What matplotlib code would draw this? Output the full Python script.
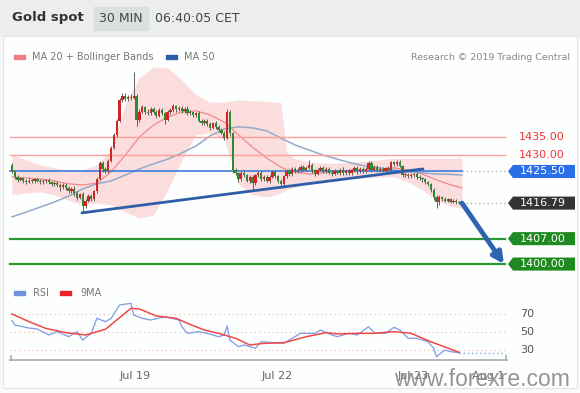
import numpy as np
import matplotlib.pyplot as plt
from matplotlib.patches import Polygon, Rectangle

# 30 min candles, bar index 0..159
first_open = 1427.3
closes = [
    1425.5, 1424.0, 1423.2, 1423.6, 1423.0, 1422.6, 1423.0, 1422.8, 1423.3, 1422.9,
    1422.5, 1422.8, 1423.1, 1422.6, 1422.0, 1422.4, 1421.8, 1421.2, 1421.8, 1420.9,
    1420.2, 1420.8, 1419.5, 1418.3, 1419.2, 1416.0, 1417.5, 1418.8, 1418.0, 1420.0,
    1423.5, 1427.8, 1426.2, 1425.5, 1428.5, 1432.0, 1435.5, 1439.5, 1445.2, 1446.2,
    1445.5, 1446.0, 1445.8, 1446.3, 1439.8, 1442.0, 1443.2, 1442.0, 1441.5, 1442.8,
    1442.0, 1440.8, 1442.5, 1441.6, 1439.8, 1441.8, 1442.5, 1443.5, 1442.6, 1443.0,
    1442.2, 1442.8, 1441.5, 1441.8, 1441.0, 1441.5, 1439.5, 1438.8, 1439.5, 1438.5,
    1437.5, 1438.8, 1437.8, 1437.0, 1436.2, 1434.8, 1441.8, 1436.0, 1426.0, 1425.0,
    1423.5, 1425.2, 1424.5, 1423.0, 1424.0, 1422.2, 1424.5, 1425.0, 1423.5, 1424.0,
    1423.0, 1424.0, 1425.3, 1424.2, 1423.0, 1422.0, 1424.2, 1425.5, 1424.8, 1426.3,
    1425.6, 1426.0, 1426.8, 1426.0, 1426.5, 1427.2, 1425.8, 1424.8, 1426.0, 1426.5,
    1425.6, 1426.3, 1425.2, 1424.8, 1425.6, 1425.2, 1426.0, 1425.0, 1425.6, 1425.0,
    1425.8, 1426.5, 1425.5, 1426.2, 1425.6, 1426.3, 1427.8, 1426.0, 1426.8, 1425.8,
    1426.2, 1425.7, 1426.4, 1426.0, 1428.0, 1427.6, 1428.2, 1427.0, 1424.5, 1424.6,
    1424.2, 1424.5, 1424.8, 1424.0, 1423.6, 1423.3, 1422.5, 1422.0, 1420.5, 1418.5,
    1417.0, 1418.4, 1418.0, 1417.5, 1417.8, 1417.2, 1417.5, 1417.0, 1416.9, 1416.79,
]
wick_up = [
    0.5, 0.4, 0.5, 0.4, 0.5, 0.4, 0.6, 0.4, 0.5, 0.4,
    0.4, 0.5, 0.4, 0.6, 0.4, 0.5, 0.4, 0.5, 0.6, 0.4,
    0.5, 0.4, 0.6, 0.5, 0.4, 0.6, 0.5, 0.4, 0.6, 0.5,
    0.4, 0.6, 0.5, 0.4, 0.5, 0.4, 0.5, 0.4, 0.5, 0.8,
    1.0, 0.6, 0.8, 6.5, 0.5, 0.6, 0.5, 0.4, 0.6, 0.5,
    0.5, 0.4, 0.6, 0.5, 0.4, 0.5, 0.6, 0.5, 0.4, 0.5,
    0.5, 0.4, 0.6, 0.5, 0.4, 0.5, 0.6, 0.4, 0.5, 0.4,
    0.5, 0.4, 0.5, 0.4, 0.5, 0.4, 0.8, 0.6, 0.4, 0.5,
    0.4, 0.5, 0.6, 0.4, 0.5, 0.5, 0.4, 0.6, 0.5, 0.4,
    0.5, 0.4, 0.6, 0.5, 0.4, 0.5, 0.4, 0.5, 0.6, 0.4,
    0.5, 0.4, 0.6, 0.5, 0.4, 1.4, 0.5, 0.4, 0.5, 0.6,
    0.4, 0.5, 0.4, 0.6, 0.5, 0.4, 0.5, 0.6, 0.4, 0.5,
    0.4, 0.5, 0.6, 0.4, 0.5, 0.4, 0.6, 0.5, 0.4, 0.5,
    0.4, 0.5, 0.4, 0.6, 0.5, 0.4, 0.5, 0.6, 0.4, 0.5,
    0.4, 0.5, 0.4, 0.6, 0.4, 0.5, 0.4, 0.5, 0.4, 0.5,
    0.6, 0.5, 0.4, 0.5, 0.4, 0.5, 0.4, 0.4, 0.3, 0.3,
]
wick_dn = [
    0.5, 0.6, 0.5, 0.4, 0.6, 0.5, 0.4, 0.5, 0.6, 0.4,
    0.5, 0.4, 0.6, 0.5, 0.4, 0.5, 0.6, 1.0, 0.5, 0.6,
    0.6, 0.5, 0.8, 0.6, 0.5, 1.9, 0.6, 0.5, 0.6, 0.5,
    0.5, 0.4, 0.8, 0.5, 0.4, 0.5, 0.4, 0.5, 0.4, 0.6,
    0.5, 0.6, 0.5, 0.4, 1.8, 0.6, 0.5, 0.6, 0.4, 0.5,
    0.6, 0.5, 0.4, 0.5, 1.3, 0.5, 0.4, 0.5, 0.6, 0.4,
    0.5, 0.6, 0.4, 0.5, 0.6, 0.4, 0.5, 0.6, 0.4, 0.5,
    0.6, 0.4, 0.5, 0.6, 0.5, 0.5, 0.4, 0.6, 0.8, 0.6,
    0.8, 0.5, 0.6, 0.5, 0.6, 1.7, 0.5, 0.4, 0.6, 0.5,
    0.5, 0.6, 0.4, 0.5, 0.6, 1.0, 0.5, 0.4, 0.5, 0.6,
    0.4, 0.5, 0.6, 0.4, 0.5, 0.4, 0.6, 0.5, 0.4, 0.5,
    0.6, 0.4, 0.5, 0.6, 0.4, 0.5, 0.6, 0.4, 0.5, 0.6,
    0.5, 0.4, 0.6, 0.5, 0.4, 0.5, 0.4, 0.6, 0.5, 0.4,
    0.5, 0.4, 0.6, 0.5, 0.4, 0.5, 0.6, 0.4, 0.6, 0.5,
    0.5, 0.4, 0.6, 0.5, 0.4, 0.6, 0.5, 0.4, 0.6, 0.8,
    1.5, 0.6, 0.5, 0.4, 0.5, 0.4, 0.5, 0.4, 0.3, 0.3,
]

# indicators (bar index, value)
band_x = [0, 5, 10, 15, 20, 25, 30, 35, 40, 45, 50, 55, 60, 65, 70, 75, 80, 85, 90, 95, 97,
          100, 105, 110, 115, 120, 125, 130, 135, 140, 145, 150, 155, 159]
ma20 = [1424.0, 1423.7, 1423.4, 1422.9, 1422.1, 1421.8, 1422.3, 1425.4, 1430.0, 1435.0, 1438.3,
        1440.5, 1441.9, 1442.2, 1441.1, 1439.1, 1435.6, 1432.2, 1429.2, 1426.7, 1426.0,
        1425.4, 1424.8, 1425.1, 1425.4, 1425.9, 1425.9, 1426.2, 1426.5, 1425.9, 1424.8,
        1423.2, 1421.8, 1421.0]
bb_upper = [1430.0, 1428.7, 1427.3, 1426.5, 1425.9, 1425.9, 1427.3, 1431.4, 1443.8, 1451.3, 1454.3,
            1454.0, 1450.7, 1446.6, 1444.6, 1444.6, 1445.2, 1445.0, 1444.8, 1444.5, 1431.0,
            1429.0, 1428.1, 1427.8, 1427.8, 1428.1, 1428.4, 1428.7, 1429.2, 1429.2, 1429.2,
            1429.2, 1429.2, 1429.2]
bb_lower = [1419.0, 1419.6, 1419.9, 1419.0, 1417.6, 1416.3, 1416.8, 1416.3, 1414.3, 1412.7, 1413.5,
            1420.4, 1428.7, 1435.6, 1436.1, 1434.2, 1422.0, 1419.0, 1418.5, 1419.5, 1420.5,
            1421.2, 1422.3, 1423.2, 1423.4, 1423.7, 1423.7, 1424.0, 1424.0, 1422.6, 1420.4,
            1417.6, 1416.0, 1415.4]
ma50_x = [0, 5, 10, 15, 20, 25, 30, 35, 40, 45, 50, 55, 60, 65, 70, 75, 80, 85, 90, 95,
          100, 105, 110, 115, 120, 125, 130, 135, 140, 145, 150, 155, 159]
ma50 = [1413.0, 1414.3, 1415.7, 1417.1, 1418.7, 1420.7, 1422.1, 1422.9, 1424.5, 1426.2, 1427.6,
        1428.9, 1430.6, 1432.5, 1435.3, 1437.2, 1437.8, 1437.5, 1436.7, 1434.7, 1432.8,
        1431.4, 1430.0, 1428.9, 1427.8, 1427.0, 1426.5, 1425.9, 1425.4, 1425.1, 1424.8,
        1424.7, 1424.5]

rsi_x = [0, 1, 6, 9, 13, 16, 20, 23, 25, 28, 30, 33, 35, 38, 42, 43, 46, 49, 54, 59,
         60, 62, 66, 69, 73, 75, 76, 77, 80, 82, 86, 88, 93, 96, 99, 102, 107, 109, 113, 115,
         119, 122, 126, 128, 132, 135, 137, 140, 143, 147, 149, 150, 153, 155, 158]
rsi = [62.6, 57.8, 54.4, 53.3, 46.7, 50.4, 44.8, 50.4, 41.0, 48.5, 65.2, 61.5, 65.0, 80.0, 81.9,
       68.9, 65.2, 63.3, 67.0, 63.3, 55.9, 48.5, 50.4, 48.5, 44.8, 46.7, 56.7, 41.0, 33.7, 35.6,
       31.9, 39.2, 38.1, 37.4, 43.0, 48.5, 48.5, 52.2, 46.7, 44.8, 48.5, 46.7, 55.9, 49.3, 48.5,
       55.2, 52.2, 43.0, 43.0, 39.2, 31.9, 22.6, 30.0, 28.1, 27.0]
ma9_x = [0, 6, 12, 19, 26, 33, 37, 42, 45, 51, 58, 62, 68, 73, 79, 84, 89, 96, 104, 111,
         115, 122, 128, 135, 141, 148, 158]
ma9 = [70.0, 61.5, 54.0, 49.3, 46.7, 53.0, 63.3, 76.3, 75.6, 67.8, 65.2, 59.6, 52.2, 48.5, 43.0,
       35.6, 37.4, 38.1, 44.8, 49.3, 47.8, 48.5, 48.5, 50.4, 48.5, 39.2, 27.4]

trend_x = [24.7, 145.2]
trend_y = [1414.1, 1426.2]
resist = [1435.00, 1430.00]
pivot = 1425.50
last = 1416.79
targets = [1407.00, 1400.00]
date_ticks = [43.5, 93.6, 141.7, 168.2]
date_labels = ["Jul 19", "Jul 22", "Jul 23", "Aug 1"]
rsi_levels = [70, 50, 30]

# pixel layout helpers
W, H = 580, 393
X0, DX = 12.0, 2.83          # px of bar 0, px per bar
def bx(px):
    return (px - X0) / DX

fig = plt.figure(figsize=(W / 100, H / 100), dpi=100)
fig.patch.set_facecolor('#f9fbfb')

bg = fig.add_axes([0, 0, 1, 1])
bg.set_xlim(0, W)
bg.set_ylim(H, 0)
bg.axis('off')
bg.add_patch(Rectangle((0, 0), W, 36, color='#eceeee', zorder=0))
bg.add_patch(Rectangle((3, 36), W - 6, 352, facecolor='#fdfefe', edgecolor='#e2e6e6', lw=0.8, zorder=0))
bg.text(12, 18, "Gold spot", fontsize=9.5, fontweight='bold', color='#333333', va='center')
bg.add_patch(Rectangle((94, 7), 54, 23, color='#dcdfdf', zorder=1))
bg.text(121, 18.5, "30 MIN", fontsize=9, color='#444444', va='center', ha='center', zorder=2)
bg.text(155, 18.5, "06:40:05 CET", fontsize=9, color='#444444', va='center')
bg.add_patch(Rectangle((14, 54.5), 11, 4, color='#f08080'))
bg.text(32, 57, "MA 20 + Bollinger Bands", fontsize=7, color='#777777', va='center')
bg.add_patch(Rectangle((166, 54.5), 11, 4, color='#2f5ea8'))
bg.text(184, 57, "MA 50", fontsize=7, color='#777777', va='center')
bg.text(570, 57, "Research \u00a9 2019 Trading Central", fontsize=6.8, color='#888888', va='center', ha='right')
bg.add_patch(Rectangle((14, 290.5), 11, 4, color='#7090e0'))
bg.text(33, 292.5, "RSI", fontsize=7, color='#777777', va='center')
bg.add_patch(Rectangle((60, 290.5), 11, 4, color='#ee2222'))
bg.text(80, 292.5, "9MA", fontsize=7, color='#777777', va='center')

# price panel
ax = fig.add_axes([0, 1 - 278 / H, 1, 213 / H])
ax.set_xlim(bx(0), bx(W))
ax.set_ylim(1396.16, 1454.83)
ax.axis('off')
ax.patch.set_alpha(0)

ax.fill_between(band_x, bb_lower, bb_upper, color='#fbd3d3', alpha=0.75, lw=0, zorder=1)
ax.plot(band_x, ma20, color='#f08a8a', lw=0.9, zorder=2)
ax.plot(ma50_x, ma50, color='#93abc9', lw=1.1, zorder=2)

left, right = bx(10), bx(505)
for lv in resist:
    ax.plot([left, right], [lv, lv], color='#ff9c9c', lw=1, zorder=2)
    ax.text(bx(542), lv, f"{lv:.2f}", color='#ee3333', fontsize=8, ha='center', va='center')
for lv in targets:
    ax.plot([left, right], [lv, lv], color='#2e962e', lw=1.6, zorder=2)
ax.plot([left, 159], [pivot, pivot], color='#3d7be0', lw=1.2, zorder=2)
ax.plot([159, right], [pivot, pivot], color='#aab4b4', lw=1, ls=(0, (1, 2)), zorder=2)
ax.plot([159, right], [last, last], color='#aab4b4', lw=1, ls=(0, (1, 2)), zorder=2)

opens = [first_open] + closes[:-1]
xs = np.arange(len(closes))
hi = [max(o, c) + w for o, c, w in zip(opens, closes, wick_up)]
lo = [min(o, c) - w for o, c, w in zip(opens, closes, wick_dn)]
cols = ['#d02525' if c >= o else '#2f8a2f' for o, c in zip(opens, closes)]
ax.vlines(xs, lo, hi, color='#606060', lw=0.7, zorder=3)
ax.bar(xs, [max(abs(c - o), 0.22) for o, c in zip(opens, closes)],
       bottom=[min(o, c) for o, c in zip(opens, closes)], width=0.82, color=cols, zorder=4)

ax.plot(trend_x, trend_y, color='#2f5ea8', lw=2, zorder=5, solid_capstyle='round')
ax.annotate('', xy=(bx(504), targets[1]), xytext=(159, last),
            arrowprops=dict(arrowstyle='-|>', color='#2f64b0', lw=3.5, mutation_scale=16,
                            shrinkA=0, shrinkB=0), zorder=6)

def tag(level, fc):
    h = 1.8
    x1, xn, x2 = bx(508), bx(513), bx(575)
    ax.add_patch(Polygon([(x1, level), (xn, level + h), (x2, level + h), (x2, level - h), (xn, level - h)],
                         closed=True, facecolor=fc, edgecolor='none', clip_on=False, zorder=6))
    ax.text(bx(543), level, f"{level:.2f}", color='white', fontsize=8, ha='center', va='center', zorder=7)

tag(pivot, '#2b6fe8')
tag(last, '#333333')
for lv in targets:
    tag(lv, '#1f8a1f')

# RSI panel
ax2 = fig.add_axes([10 / W, 1 - 360 / H, 497 / W, 64 / H])
ax2.set_xlim(bx(10), bx(507))
ax2.set_ylim(18.9, 90)
ax2.patch.set_alpha(0)
for s in ['top', 'left', 'right']:
    ax2.spines[s].set_visible(False)
ax2.spines['bottom'].set_color('#aaaaaa')
ax2.spines['bottom'].set_linewidth(1.2)
ax2.set_xticks(date_ticks)
ax2.set_xticklabels(date_labels, fontsize=8, color='#666666')
ax2.tick_params(axis='x', length=0, pad=8)
ax2.set_yticks([])
for lv in rsi_levels:
    ax2.plot([bx(10), bx(505)], [lv, lv], color='#f2b0b0', lw=0.8, ls=(0, (1, 3)))
    ax2.text(bx(527), lv, str(lv), fontsize=8, color='#555555', ha='center', va='center', clip_on=False)
ax2.plot(rsi_x, rsi, color='#7f9be6', lw=0.9)
ax2.plot([rsi_x[-1], bx(505)], [rsi[-1], rsi[-1]], color='#7f9be6', lw=1, ls=(0, (1, 2)))
ax2.plot(ma9_x, ma9, color='#f04848', lw=1.1)
ax2.plot([bx(11), bx(11)], [18.9, 23], color='#aaaaaa', lw=1.2, clip_on=False)
ax2.plot([bx(506), bx(506)], [18.9, 23], color='#aaaaaa', lw=1.2, clip_on=False)

fig.text(482 / W, 1 - 379 / H, "www.forexre.com", fontsize=16.5, color='#8a8a8a', alpha=0.9,
         ha='center', va='center', family='Liberation Sans')

fig.savefig('out.png', dpi=100, facecolor=fig.get_facecolor())
